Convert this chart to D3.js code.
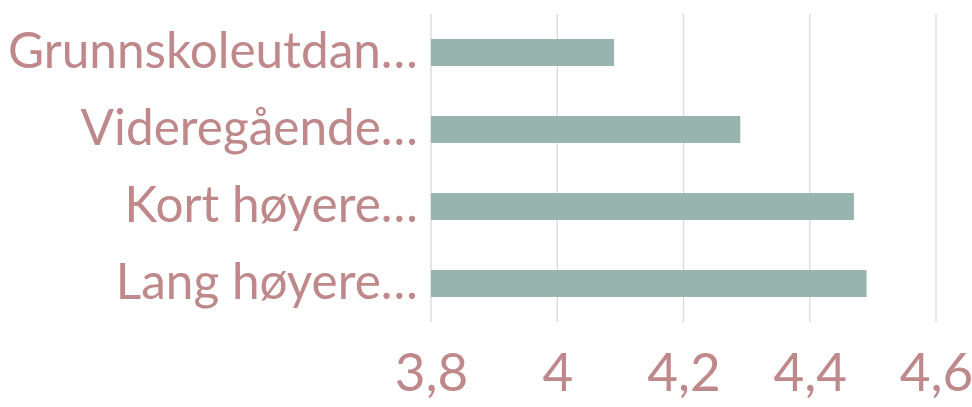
<!DOCTYPE html>
<html><head><meta charset="utf-8">
<script src="https://cdn.jsdelivr.net/npm/d3@7"></script>
<style>body{margin:0;background:#fff}svg{display:block}</style>
</head><body><svg id="c" width="972" height="407"></svg>
<script>
const categories = ["Grunnskoleutdan…", "Videregående…", "Kort høyere…", "Lang høyere…"];
const values = [4.09, 4.29, 4.47, 4.49];
const ticks = [3.8, 4, 4.2, 4.4, 4.6];

const svg = d3.select("#c");
const m = {l: 431, r: 36, t: 14, b: 85};
const W = 972, H = 407;
const x = d3.scaleLinear().domain([3.8, 4.6]).range([m.l, W - m.r]);
const y = d3.scaleBand().domain(categories).range([m.t, H - m.b]).paddingInner(0.65).paddingOuter(0.325);
const txt = "#bf888a", font = "Lato, 'Open Sans', sans-serif";

svg.append("g").selectAll("line").data(ticks).join("line")
  .attr("x1", d => x(d)).attr("x2", d => x(d))
  .attr("y1", m.t).attr("y2", H - m.b)
  .attr("stroke", "#d9d9d9").attr("stroke-width", 1.3);

svg.append("g").selectAll("rect").data(values).join("rect")
  .attr("x", x(3.8)).attr("y", (d, i) => y(categories[i]))
  .attr("width", d => x(d) - x(3.8)).attr("height", y.bandwidth())
  .attr("fill", "#97b5ae");

const xa = svg.append("g").attr("transform", `translate(0,${H - m.b})`)
  .call(d3.axisBottom(x).tickValues(ticks).tickSize(0).tickPadding(31)
    .tickFormat(d => String(d).replace(".", ",")));
xa.select(".domain").remove();
xa.selectAll("text").attr("fill", txt).style("font-family", font).style("font-size", "53px");

const ya = svg.append("g").attr("transform", `translate(${m.l},0)`)
  .call(d3.axisLeft(y).tickSize(0).tickPadding(13));
ya.select(".domain").remove();
ya.selectAll("text").attr("fill", txt).style("font-family", font).style("font-size", "49.5px");
</script></body></html>
